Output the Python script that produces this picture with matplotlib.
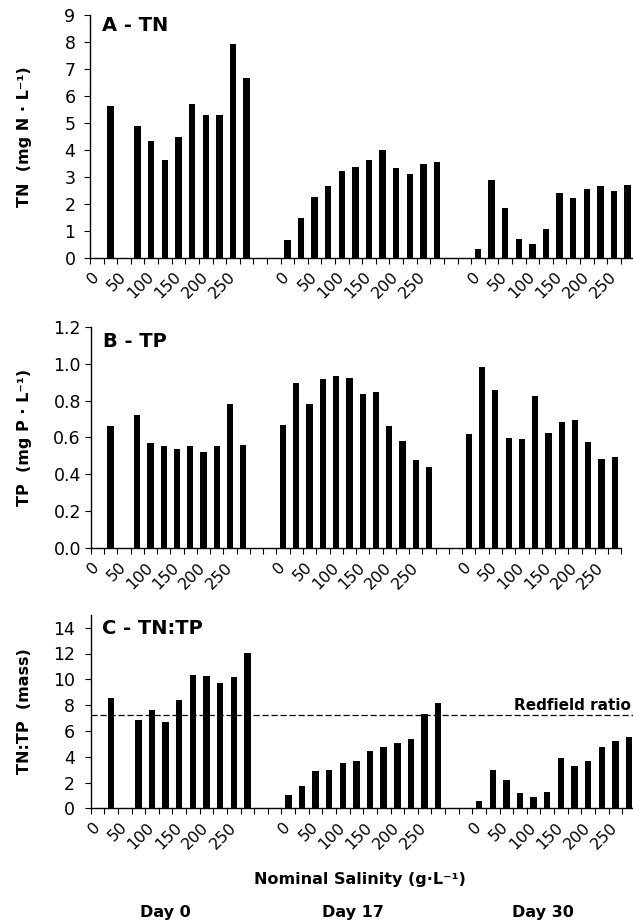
import numpy as np
import matplotlib
matplotlib.use("Agg")
import matplotlib.pyplot as plt
from matplotlib.ticker import FixedLocator, FormatStrFormatter

nan = np.nan

# Nominal salinity levels (g/L); every other level is labelled on the axis
salinity = [0, 25, 50, 75, 100, 125, 150, 175, 200, 225, 250, 275]
salinity_labels = ["0", "50", "100", "150", "200", "250"]
days = ["Day 0", "Day 17", "Day 30"]

# Total nitrogen (mg N / L)
tn_day0 = [nan, 5.63, nan, 4.89, 4.33, 3.63, 4.48, 5.70, 5.28, 5.31, 7.93, 6.67]
tn_day17 = [0.68, 1.48, 2.26, 2.67, 3.23, 3.36, 3.64, 4.00, 3.33, 3.11, 3.48, 3.56]
tn_day30 = [0.33, 2.89, 1.85, 0.69, 0.53, 1.06, 2.42, 2.23, 2.57, 2.67, 2.49, 2.70]

# Total phosphorus (mg P / L)
tp_day0 = [nan, 0.662, nan, 0.724, 0.572, 0.552, 0.538, 0.556, 0.521, 0.552, 0.781, 0.559]
tp_day17 = [0.666, 0.895, 0.781, 0.915, 0.933, 0.920, 0.835, 0.844, 0.664, 0.579, 0.478, 0.440]
tp_day30 = [0.619, 0.982, 0.859, 0.597, 0.592, 0.825, 0.623, 0.686, 0.693, 0.576, 0.484, 0.496]

# TN:TP mass ratio
ratio_day0 = [nan, 8.58, nan, 6.82, 7.62, 6.69, 8.40, 10.36, 10.26, 9.71, 10.20, 12.01]
ratio_day17 = [1.03, 1.70, 2.92, 2.97, 3.51, 3.69, 4.42, 4.78, 5.09, 5.37, 7.31, 8.19]
ratio_day30 = [0.57, 2.97, 2.17, 1.19, 0.90, 1.29, 3.93, 3.25, 3.69, 4.73, 5.24, 5.50]

redfield = 7.2

plt.rcParams["font.family"] = ["DejaVu Sans"]

W, H = 633, 921
fig = plt.figure(figsize=(W / 100, H / 100), dpi=100)


def px_rect(left, top, right, bottom):
    return [left / W, 1 - bottom / H, (right - left) / W, (bottom - top) / H]


n_levels = len(salinity)
gap = 2  # empty slots between sampling days
group_start = [d * (n_levels + gap) for d in range(len(days))]
n_slots = group_start[-1] + n_levels


def draw_panel(ax, series, ylim, yticks, yfmt, ylabel, title, title_px, ypad):
    for start, vals in zip(group_start, series):
        vals = np.asarray(vals, dtype=float)
        x = start + np.arange(n_levels)
        ok = ~np.isnan(vals)
        ax.bar(x[ok], vals[ok], width=0.47, color="black", edgecolor="none", zorder=3)
    ax.set_xlim(-0.5, n_slots - 0.5)
    ax.set_ylim(*ylim)
    ax.set_yticks(yticks)
    ax.yaxis.set_major_formatter(FormatStrFormatter(yfmt))
    for s in ("top", "right"):
        ax.spines[s].set_visible(False)
    for s in ("left", "bottom"):
        ax.spines[s].set_linewidth(1.0)
    # labels on every other level, tick marks on category boundaries
    label_pos = []
    label_txt = []
    for start in group_start:
        for k, lab in enumerate(salinity_labels):
            label_pos.append(start + 2 * k)
            label_txt.append(lab)
    ax.xaxis.set_major_locator(FixedLocator(label_pos))
    ax.set_xticklabels(label_txt, rotation=45, ha="right", va="center",
                       rotation_mode="anchor", fontsize=11.5)
    ax.xaxis.set_minor_locator(FixedLocator(np.arange(-0.5, n_slots, 1.0)))
    ax.tick_params(axis="x", which="major", length=0, pad=12)
    ax.tick_params(axis="x", which="minor", length=4, width=0.8, direction="out")
    ax.tick_params(axis="y", which="major", length=4, width=0.8, direction="out",
                   labelsize=12.5, pad=ypad)
    ax.set_ylabel(ylabel, fontsize=11.5, fontweight="bold")
    ax.yaxis.set_label_coords(25 / W, 0.5, transform=None)
    ax.yaxis.label.set_transform(
        matplotlib.transforms.blended_transform_factory(fig.transFigure, ax.transAxes))
    ax.yaxis.label.set_va("center")
    fig.text(title_px[0] / W, 1 - title_px[1] / H, title, fontsize=14,
             fontweight="bold", ha="left", va="top")


axA = fig.add_axes(px_rect(90, 15, 634.5, 258))
draw_panel(axA, [tn_day0, tn_day17, tn_day30], (0, 9), np.arange(0, 10, 1), "%d",
           "TN  (mg N · L⁻¹)", "A - TN", (102, 16), 6.5)

axB = fig.add_axes(px_rect(90.7, 326.7, 621.4, 548.3))
draw_panel(axB, [tp_day0, tp_day17, tp_day30], (0, 1.2), np.arange(0, 1.21, 0.2), "%.1f",
           "TP  (mg P · L⁻¹)", "B - TP", (103, 332), 3.0)

axC = fig.add_axes(px_rect(90.7, 614.8, 635.8, 808.3))
draw_panel(axC, [ratio_day0, ratio_day17, ratio_day30], (0, 15), np.arange(0, 15, 2), "%d",
           "TN:TP  (mass)", "C - TN:TP", (102, 619), 7.5)

axC.axhline(redfield, color="black", lw=0.9, linestyle=(0, (5, 2.2)), zorder=4)
fig.text(631 / W, 1 - 713 / H, "Redfield ratio", fontsize=11, fontweight="bold",
         ha="right", va="bottom")

fig.text(360 / W, 1 - 879 / H, "Nominal Salinity (g·L⁻¹)", fontsize=11.5,
         fontweight="bold", ha="center", va="center")
for xpx, name in zip([165, 353, 543], days):
    fig.text(xpx / W, 1 - 912 / H, name, fontsize=11.5, fontweight="bold",
             ha="center", va="center")

fig.savefig("out.png", dpi=100)
